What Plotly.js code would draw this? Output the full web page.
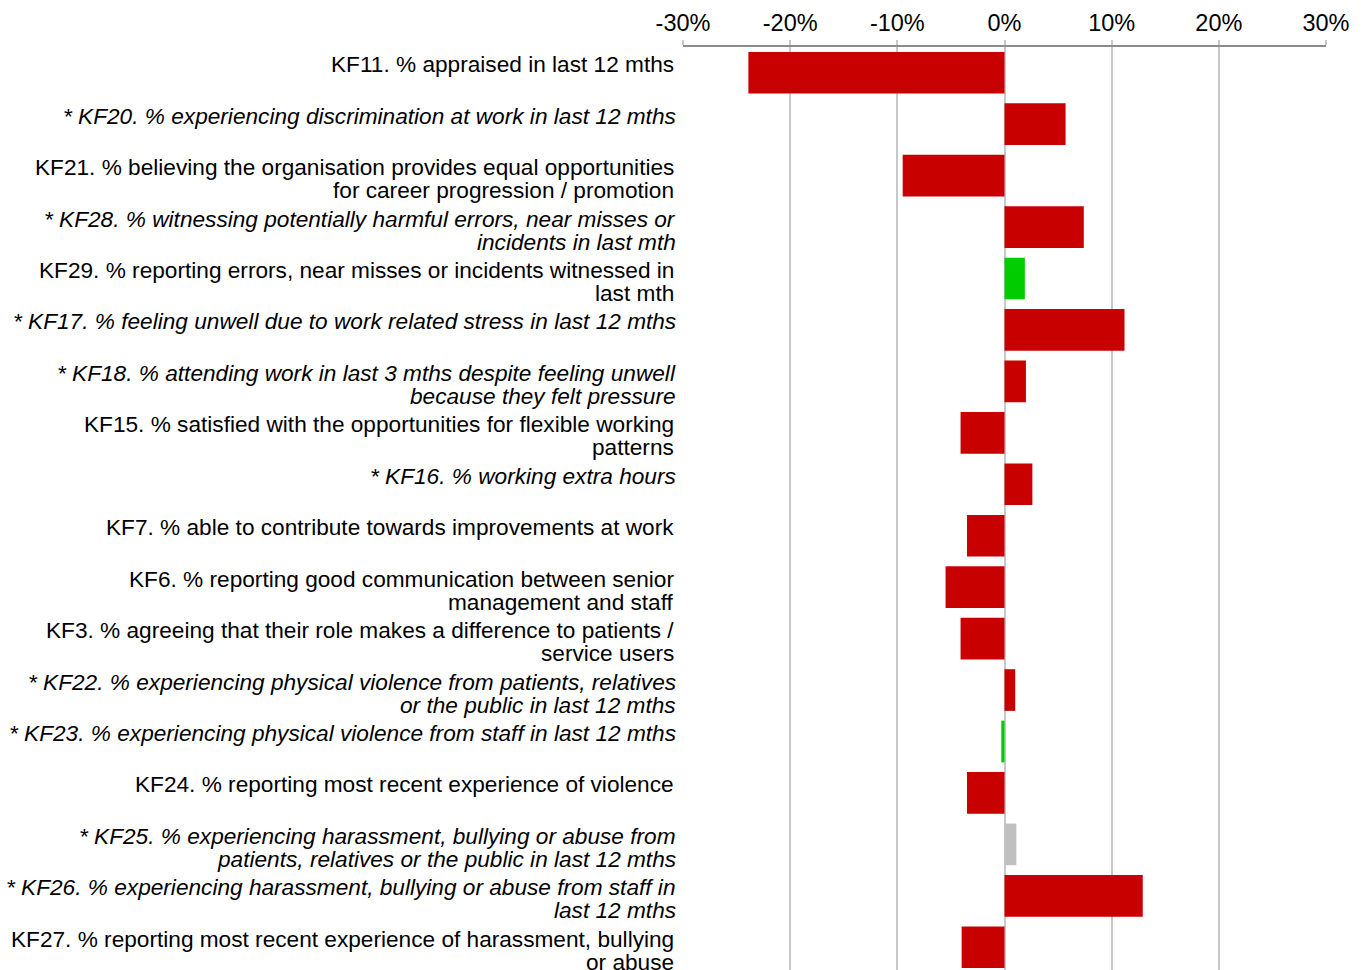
<!DOCTYPE html>
<html>
<head>
<meta charset="utf-8">
<script src="https://cdn.plot.ly/plotly-3.0.1.min.js"></script>
<style>
  html, body { margin: 0; padding: 0; overflow: hidden; background: #ffffff; }
  #chart { width: 1363px; height: 973px; }
</style>
</head>
<body>
<div id="chart"></div>
<script>
// Key finding labels (top to bottom), line breaks as in the reference
const categories = [
  "KF11. % appraised in last 12 mths",
  "* KF20. % experiencing discrimination at work in last 12 mths",
  "KF21. % believing the organisation provides equal opportunities<br>for career progression / promotion",
  "* KF28. % witnessing potentially harmful errors, near misses or<br>incidents in last mth",
  "KF29. % reporting errors, near misses or incidents witnessed in<br>last mth",
  "* KF17. % feeling unwell due to work related stress in last 12 mths",
  "* KF18. % attending work in last 3 mths despite feeling unwell<br>because they felt pressure",
  "KF15. % satisfied with the opportunities for flexible working<br>patterns",
  "* KF16. % working extra hours",
  "KF7. % able to contribute towards improvements at work",
  "KF6. % reporting good communication between senior<br>management and staff",
  "KF3. % agreeing that their role makes a difference to patients /<br>service users",
  "* KF22. % experiencing physical violence from patients, relatives<br>or the public in last 12 mths",
  "* KF23. % experiencing physical violence from staff in last 12 mths",
  "KF24. % reporting most recent experience of violence",
  "* KF25. % experiencing harassment, bullying or abuse from<br>patients, relatives or the public in last 12 mths",
  "* KF26. % experiencing harassment, bullying or abuse from staff in<br>last 12 mths",
  "KF27. % reporting most recent experience of harassment, bullying<br>or abuse"
];

// Change in percentage points
const changeValues = [
  -23.9, 5.7, -9.5, 7.4, 1.9, 11.2, 2.0, -4.1, 2.6,
  -3.5, -5.5, -4.1, 1.0, -0.3, -3.5, 1.1, 12.9, -4.0
];

// Direction of change: worse / better / nochange
const changeStatus = [
  "worse", "worse", "worse", "worse", "better", "worse", "worse", "worse", "worse",
  "worse", "worse", "worse", "worse", "better", "worse", "nochange", "worse", "worse"
];

const tickValues = [-30, -20, -10, 0, 10, 20, 30];
const tickLabels = ["-30%", "-20%", "-10%", "0%", "10%", "20%", "30%"];

const statusColor = { worse: "#C80000", better: "#00CC00", nochange: "#C0C0C0" };
const FONT = "Liberation Sans, Arial, sans-serif";

const trace = {
  type: "bar",
  orientation: "h",
  x: changeValues,
  y: categories,
  width: 0.81,
  marker: { color: changeStatus.map(s => statusColor[s]), line: { width: 0 } },
  hoverinfo: "skip"
};

// Category labels as annotations, one per line, to get compact line spacing
const annotations = [];
categories.forEach((cat, i) => {
  const italic = cat.trim().startsWith("*");
  const lines = cat.split("<br>");
  lines.forEach((ln, k) => {
    annotations.push({
      xref: "paper", x: 0, xanchor: "right", xshift: italic ? -5 : -7,
      yref: "y", y: cat, yanchor: "middle", yshift: 8.5 - 23 * k,
      text: italic ? "<i>" + ln + "</i>" : ln,
      showarrow: false, align: "right",
      font: { family: FONT, size: 22.65, color: "#000000" }
    });
  });
});

const layout = {
  width: 1363,
  height: 973,
  margin: { l: 683, r: 37, t: 47, b: 0, pad: 0 },
  paper_bgcolor: "#ffffff",
  plot_bgcolor: "#ffffff",
  showlegend: false,
  bargap: 0.19,
  xaxis: {
    side: "top",
    range: [-30, 30],
    tickvals: tickValues,
    ticktext: tickLabels,
    tickfont: { family: FONT, size: 23.5, color: "#000000" },
    showgrid: true,
    gridcolor: "#C8C8C8",
    gridwidth: 2,
    zeroline: false,
    showline: true,
    linecolor: "#8C8C8C",
    linewidth: 2,
    ticks: "outside",
    ticklen: 5,
    tickcolor: "#C8C8C8",
    tickwidth: 2,
    fixedrange: true
  },
  yaxis: {
    type: "category",
    autorange: "reversed",
    showticklabels: false,
    showgrid: false,
    zeroline: false,
    showline: false,
    ticks: "",
    fixedrange: true
  },
  annotations: annotations
};

Plotly.newPlot("chart", [trace], layout, { displayModeBar: false, staticPlot: true });
</script>
</body>
</html>
